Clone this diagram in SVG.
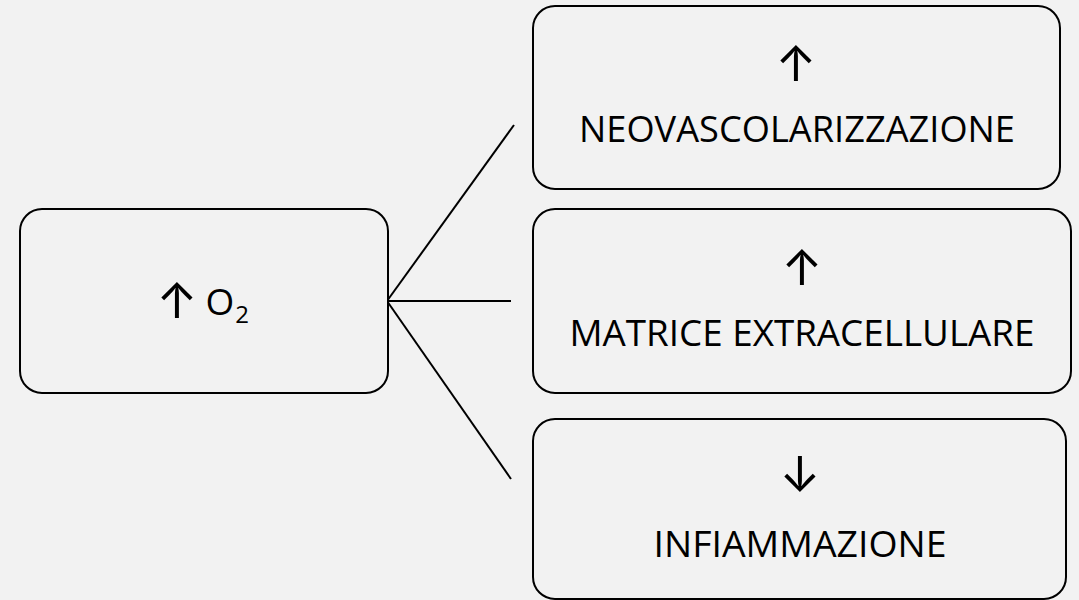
<svg xmlns="http://www.w3.org/2000/svg" width="1079" height="600" viewBox="0 0 1079 600">
<style>
.box{fill:#f2f2f2;stroke:#000;stroke-width:2}
.t{font-family:"Open Sans","Noto Sans","DejaVu Sans",sans-serif;font-size:37px;fill:#000;text-anchor:middle}
.arr{font-family:Inter,"DejaVu Sans",sans-serif;font-size:49px;fill:#000;text-anchor:middle}
.conn line{stroke:#000;stroke-width:2}
</style>
<rect x="0" y="0" width="1079" height="600" fill="#f2f2f2"/>
<g id="conns" class="conn">
<line x1="387" y1="301" x2="514" y2="125"/>
<line x1="387" y1="301" x2="511" y2="301"/>
<line x1="387" y1="301" x2="511" y2="479"/>
</g>
<g id="o2">
<rect class="box" x="20" y="209" width="368" height="184" rx="22"/>
<text class="arr" x="177" y="318">↑</text>
<text class="t" x="220" y="315">O</text>
<text class="t" x="242" y="323" style="font-size:24px">2</text>
</g>
<g id="neo">
<rect class="box" x="533" y="6" width="527" height="183" rx="22"/>
<text class="arr" x="796" y="81">↑</text>
<text class="t" x="797" y="142" textLength="436" lengthAdjust="spacingAndGlyphs">NEOVASCOLARIZZAZIONE</text>
</g>
<g id="matrice">
<rect class="box" x="533" y="209" width="538" height="184" rx="22"/>
<text class="arr" x="802" y="285">↑</text>
<text class="t" x="802" y="346" textLength="465" lengthAdjust="spacingAndGlyphs">MATRICE EXTRACELLULARE</text>
</g>
<g id="infiam">
<rect class="box" x="533" y="419" width="533" height="180" rx="22"/>
<text class="arr" x="800" y="492">↓</text>
<text class="t" x="800" y="557" textLength="293" lengthAdjust="spacingAndGlyphs">INFIAMMAZIONE</text>
</g>
</svg>
